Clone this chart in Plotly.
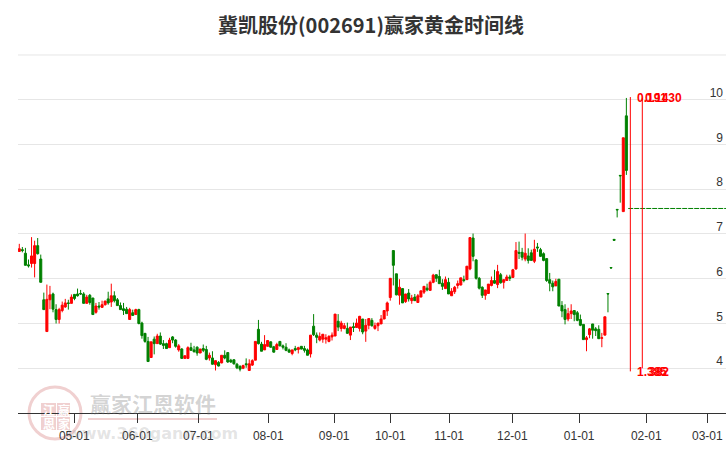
import plotly.graph_objects as go

# 1 = red (close above open), 0 = green
up = [1,0,0,0,1,1,0,0,0,1, 1,0,0,1,1,1,0,1,0,0,
      0,0,1,0,0,1,0,1,1,0, 1,0,0,0,0,0,1,0,1,0,
      0,0,0,1,0,1,0,0,0,1, 0,0,1,0,1,1,0,0,0,1,
      0,0,1,0,1,0,1,0,0,0, 0,0,0,1,0,1,1,1,0,0,
      1,1,0,0,1,0,0,0,0,1, 0,1,0,0,0,1,0,0,1,1,
      1,1,1,1,0,1,1,0,1,0, 1,1,0,1,1,0,1,1,1,1,
      1,1,0,0,1,0,1,0,1,0, 1,1,1,0,1,1,0,0,0,1,
      0,1,1,1,1,0,1,1,0,0, 0,0,1,1,1,0,1,0,1,1,
      0,1,1,0,0,1,0,0,1,0, 0,0,0,0,0,1,0,0,0,1,
      1,0,0,0,0,1,1,0,0,0, 1,1,0,0,0,0,0,1,0]

highs = [6.78,6.71,6.69,6.43,6.93,6.85,6.91,6.54,5.69,5.87,
         5.84,5.69,5.43,5.35,5.49,5.55,5.53,5.65,5.66,5.78,
         5.75,5.70,5.64,5.66,5.57,5.46,5.48,5.51,5.51,5.71,
         5.89,5.72,5.57,5.47,5.46,5.37,5.35,5.31,5.33,5.33,
         5.04,4.78,4.70,4.59,4.71,4.77,4.80,4.63,4.57,4.68,
         4.72,4.65,4.54,4.45,4.28,4.49,4.57,4.50,4.49,4.43,
         4.53,4.50,4.35,4.38,4.17,4.16,4.29,4.40,4.36,4.21,
         4.20,4.12,4.07,4.08,4.22,4.20,4.20,4.60,5.08,4.59,
         4.74,4.62,4.60,4.50,4.57,4.60,4.53,4.56,4.44,4.41,
         4.50,4.48,4.49,4.50,4.44,4.74,5.21,4.80,4.80,4.76,
         4.76,4.74,4.80,5.21,5.21,5.06,5.01,5.02,4.92,5.02,
         5.11,5.17,5.10,5.10,5.11,5.12,5.02,5.01,5.19,5.29,
         5.49,6.01,6.63,6.11,5.99,5.78,5.66,5.77,5.64,5.66,
         5.66,5.73,5.83,5.89,5.96,6.11,6.09,6.20,5.99,6.05,
         6.02,5.79,5.84,5.96,6.02,6.07,6.28,6.92,7.01,6.44,
         6.04,5.83,5.75,5.88,6.05,6.20,6.31,6.13,5.98,6.09,
         6.09,6.22,6.82,6.83,6.69,7.01,6.68,6.65,6.87,6.80,
         6.69,6.59,6.46,6.13,5.96,6.00,5.99,5.50,5.43,5.35,
         5.43,5.29,5.28,5.20,4.98,4.72,4.90,4.99,4.92,4.96,
         4.79,5.15,5.67,6.25,6.88,7.55,8.31,9.15,10.04]

body_tops = [6.67,6.65,6.57,6.31,6.51,6.74,6.74,6.44,5.53,5.54,
             5.64,5.66,5.31,5.31,5.41,5.46,5.46,5.59,5.65,5.66,
             5.67,5.66,5.59,5.63,5.57,5.39,5.39,5.42,5.50,5.55,
             5.62,5.62,5.53,5.40,5.33,5.32,5.31,5.24,5.31,5.31,
             5.01,4.78,4.60,4.59,4.65,4.72,4.72,4.55,4.55,4.63,
             4.70,4.63,4.50,4.43,4.28,4.46,4.46,4.41,4.47,4.43,
             4.44,4.42,4.29,4.23,4.17,4.13,4.29,4.29,4.35,4.18,
             4.19,4.09,4.04,4.06,4.10,4.10,4.17,4.60,4.87,4.54,
             4.53,4.62,4.59,4.48,4.53,4.60,4.50,4.47,4.41,4.41,
             4.44,4.46,4.49,4.44,4.41,4.74,4.94,4.74,4.71,4.76,
             4.68,4.71,4.74,5.21,5.05,5.01,4.95,4.89,4.92,4.93,
             5.01,5.16,5.10,4.96,5.11,5.07,4.95,5.01,5.10,5.29,
             5.46,6.01,6.63,6.11,5.81,5.78,5.66,5.68,5.57,5.59,
             5.62,5.73,5.83,5.79,5.92,6.08,6.09,6.05,5.90,5.98,
             5.92,5.72,5.81,5.89,6.02,5.98,6.28,6.92,6.91,6.42,
             6.01,5.81,5.75,5.88,5.96,5.96,6.16,6.09,5.98,6.04,
             6.04,6.20,6.63,6.59,6.59,6.57,6.51,6.58,6.66,6.71,
             6.65,6.56,6.45,5.98,5.90,5.94,5.99,5.40,5.31,5.22,
             5.28,5.29,5.24,5.09,4.98,4.68,4.88,4.99,4.88,4.87,
             4.68,5.15,5.67,6.25,6.88,7.55,8.31,9.15,9.64]

body_bottoms = [6.61,6.63,6.30,6.29,6.34,6.34,6.56,5.92,5.31,4.82,
                5.53,5.32,5.09,5.09,5.29,5.37,5.45,5.45,5.56,5.62,
                5.66,5.45,5.45,5.47,5.20,5.25,5.37,5.36,5.42,5.46,
                5.48,5.51,5.40,5.31,5.29,5.22,5.09,5.18,5.20,5.00,
                4.73,4.60,4.15,4.24,4.55,4.55,4.54,4.51,4.44,4.46,
                4.63,4.49,4.41,4.22,4.22,4.22,4.40,4.37,4.34,4.34,
                4.40,4.20,4.23,4.09,4.08,4.05,4.12,4.23,4.14,4.14,
                4.10,4.01,3.98,4.00,4.08,3.95,4.07,4.18,4.55,4.38,
                4.41,4.49,4.47,4.36,4.42,4.50,4.47,4.40,4.36,4.33,
                4.41,4.42,4.43,4.40,4.29,4.32,4.75,4.69,4.63,4.65,
                4.65,4.60,4.70,4.72,4.92,4.89,4.89,4.78,4.74,4.91,
                4.91,4.89,4.81,4.83,4.96,4.95,4.89,4.95,4.99,5.10,
                5.28,5.58,6.30,5.64,5.63,5.46,5.49,5.55,5.51,5.51,
                5.47,5.59,5.70,5.75,5.74,5.92,6.01,5.89,5.83,5.78,
                5.66,5.62,5.71,5.85,5.86,5.96,5.98,6.22,6.50,6.01,
                5.79,5.63,5.63,5.67,5.85,5.90,5.87,5.91,5.92,5.96,
                6.01,6.03,6.22,6.57,6.48,6.44,6.41,6.41,6.39,6.69,
                6.50,6.41,5.96,5.90,5.82,5.84,5.39,5.28,5.09,5.10,
                5.22,5.20,5.07,4.96,4.64,4.64,4.75,4.85,4.84,4.66,
                4.67,4.74,5.66,6.24,6.86,7.54,8.30,7.50,8.42]

lows = [6.61,6.59,6.30,6.25,6.25,6.03,6.54,5.92,5.31,4.82,
        5.32,5.25,5.00,5.00,5.25,5.35,5.31,5.45,5.52,5.60,
        5.64,5.45,5.45,5.42,5.19,5.22,5.31,5.36,5.40,5.42,
        5.37,5.47,5.40,5.31,5.19,5.22,5.09,5.18,5.20,4.98,
        4.66,4.57,4.15,4.24,4.31,4.55,4.52,4.43,4.44,4.46,
        4.56,4.46,4.37,4.22,4.22,4.22,4.40,4.35,4.28,4.34,
        4.36,4.18,4.17,4.08,3.95,4.04,4.11,4.20,4.12,4.12,
        4.08,3.98,3.93,3.98,4.01,3.95,4.05,4.18,4.53,4.38,
        4.41,4.49,4.46,4.35,4.41,4.49,4.42,4.38,4.35,4.29,
        4.38,4.33,4.42,4.35,4.29,4.24,4.72,4.56,4.60,4.57,
        4.55,4.58,4.62,4.72,4.83,4.82,4.87,4.77,4.63,4.81,
        4.91,4.82,4.76,4.59,4.87,4.93,4.86,4.83,4.99,5.10,
        5.17,5.51,5.85,5.63,5.42,5.46,5.46,5.49,5.44,5.51,
        5.47,5.59,5.66,5.72,5.74,5.90,5.93,5.89,5.75,5.77,
        5.66,5.62,5.66,5.78,5.85,5.92,5.98,6.19,6.39,5.98,
        5.76,5.57,5.53,5.66,5.83,5.89,5.79,5.89,5.78,5.95,
        5.95,6.02,6.20,6.44,6.41,6.39,6.34,6.41,6.35,6.60,
        6.49,6.39,5.93,5.72,5.72,5.84,5.39,5.14,4.98,5.05,
        5.10,5.05,5.05,4.94,4.64,4.38,4.67,4.66,4.72,4.66,
        4.47,4.74,5.25,6.24,6.86,7.37,7.70,7.50,8.32]

x_tick_labels = ["05-01","06-01","07-01","08-01","09-01","10-01","11-01","12-01","01-01","02-01","03-01"]
x_tick_days = [17.94,38.5,58.4,81.2,102.7,121,140.2,160.8,182.6,204.5,224.4]
y_ticks = [3,4,5,6,7,8,9,10]
y_tick_labels = ["3","4","5","6","7","8","9","10"]
top_grid = 11

gold_level = 7.57
gold_days = [198.6, 230.5]
line_days = [199.3, 203.2]
line_tops = [10.06, 10.04]
line_bottoms = [3.93, 4.0]
upper_labels = ["0.191", "0.1430"]
lower_labels = ["1.385", "382"]

days = list(range(len(up)))
opens = [b if u else t for u, t, b in zip(up, body_tops, body_bottoms)]
closes = [t if u else b for u, t, b in zip(up, body_tops, body_bottoms)]

RED = "#ff0000"
GREEN = "#008000"
FONT = "Liberation Sans, Arial, Noto Sans CJK SC, sans-serif"
W, H = 726, 450
L, R, T, B = 18, 0, 54, 37
pw, ph = W - L - R, H - T - B

def px(v):
    return (v - L) / pw

def py(v):
    return (H - B - v) / ph

fig = go.Figure()
fig.add_trace(go.Candlestick(
    x=days, open=opens, high=highs, low=lows, close=closes,
    increasing=dict(line=dict(color=RED, width=1), fillcolor=RED),
    decreasing=dict(line=dict(color=GREEN, width=1), fillcolor=GREEN),
    showlegend=False, hoverinfo="skip"))
fig.add_trace(go.Scatter(x=gold_days, y=[gold_level, gold_level], mode="lines",
                         line=dict(color=GREEN, width=1, dash="5px,1px"),
                         showlegend=False, hoverinfo="skip"))
for d, t, b in zip(line_days, line_tops, line_bottoms):
    fig.add_trace(go.Scatter(x=[d, d], y=[b, t], mode="lines",
                             line=dict(color=RED, width=1),
                             showlegend=False, hoverinfo="skip"))

annotations = []
def note(text, x, y, size, color, bold=False, anchor="center", family=FONT, xref="paper", yref="paper"):
    annotations.append(dict(text=f"<b>{text}</b>" if bold else text, x=x, y=y, xref=xref, yref=yref,
                            xanchor=anchor, yanchor="middle", showarrow=False,
                            font=dict(size=size, color=color, family=family)))

CJK = "Noto Sans CJK SC, sans-serif"
# watermark
note("赢家江恩软件", px(152.5), py(403), 21, "rgba(120,120,120,0.32)", True, family=CJK)
note("www.360gann.com", px(152.5), py(433), 16, "rgba(120,120,120,0.2)", True, family="DejaVu Sans")
for ch, cx, cy in [("江", 48.5, 409.5), ("赢", 63.5, 409.5), ("恩", 48.5, 423.5), ("家", 63.5, 423.5)]:
    note(ch, px(cx), py(cy), 12, "#ffffff", True, family=CJK)

# fibonacci labels
note(upper_labels[0], px(634.5), 10.04, 12, RED, True, "left", yref="y")
note(upper_labels[1], px(642.5), 10.04, 12, RED, True, "left", yref="y")
note(lower_labels[0], px(635), 3.92, 12, RED, True, "left", yref="y")
note(lower_labels[1], px(647), 3.92, 12, RED, True, "left", yref="y")

PINK = "rgba(205,100,100,0.30)"
shapes = [
    dict(type="line", xref="paper", yref="y", x0=0, x1=1, y0=top_grid, y1=top_grid,
         line=dict(color="#e6e6e6", width=1), layer="below"),
    dict(type="circle", xref="paper", yref="paper", x0=px(29), x1=px(81), y0=py(439), y1=py(387),
         line=dict(color=PINK, width=3), layer="below"),
    dict(type="rect", xref="paper", yref="paper", x0=px(41), x1=px(56), y0=py(416), y1=py(403),
         line=dict(width=0), fillcolor=PINK, layer="below"),
    dict(type="rect", xref="paper", yref="paper", x0=px(57), x1=px(70), y0=py(416), y1=py(403),
         line=dict(width=0), fillcolor=PINK, layer="below"),
    dict(type="rect", xref="paper", yref="paper", x0=px(41), x1=px(56), y0=py(430), y1=py(417),
         line=dict(width=0), fillcolor=PINK, layer="below"),
    dict(type="rect", xref="paper", yref="paper", x0=px(57), x1=px(70), y0=py(430), y1=py(417),
         line=dict(width=0), fillcolor=PINK, layer="below"),
    dict(type="rect", xref="paper", yref="paper", x0=px(88), x1=px(217), y0=py(420), y1=py(418),
         line=dict(width=0), fillcolor=PINK, layer="below"),
]

fig.update_layout(
    width=W, height=H, margin=dict(l=L, r=R, t=T, b=B),
    paper_bgcolor="white", plot_bgcolor="white",
    boxgap=0.05,
    title=dict(text="<b>冀凯股份(002691)赢家黄金时间线</b>", x=371/W, xanchor="center",
               y=1-26/H, yanchor="middle", font=dict(size=20, color="#333333", family=CJK)),
    xaxis=dict(range=[-0.42, 230.5], tickmode="array", tickvals=x_tick_days, ticktext=x_tick_labels,
               ticks="outside", ticklen=9, tickcolor="#333333", tickwidth=1, showgrid=False,
               showline=True, linecolor="#333333", linewidth=1, zeroline=False,
               rangeslider=dict(visible=False),
               tickfont=dict(size=12, color="#333333", family=FONT), ticklabelstandoff=3),
    yaxis=dict(range=[3, 11.022], tickmode="array", tickvals=y_ticks, ticktext=y_tick_labels, side="right",
               ticklabelposition="inside", ticks="", showgrid=True, gridcolor="#e6e6e6", gridwidth=1,
               zeroline=False, showline=False, ticklabelshift=-7,
               tickfont=dict(size=12, color="#333333", family=FONT)),
    annotations=annotations, shapes=shapes,
)
fig.write_html("out.html", config=dict(displayModeBar=False),
               post_script="document.body.style.margin='0';")
